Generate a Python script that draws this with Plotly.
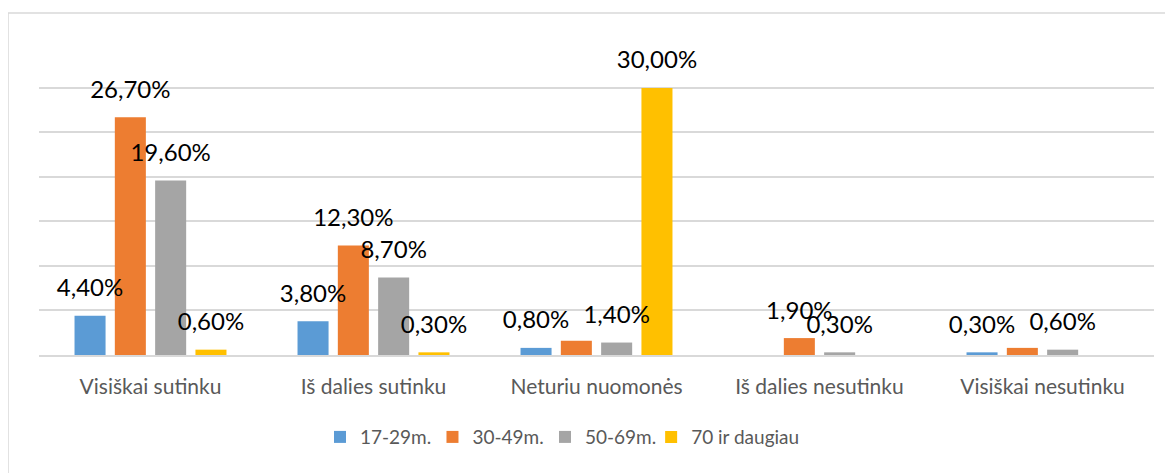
import plotly.graph_objects as go

categories = ["Visiškai sutinku", "Iš dalies sutinku", "Neturiu nuomonės", "Iš dalies nesutinku", "Visiškai nesutinku"]
series_names = ["17-29m.", "30-49m.", "50-69m.", "70 ir daugiau"]
values_17_29 = [4.4, 3.8, 0.8, 0.0, 0.3]
values_30_49 = [26.7, 12.3, 1.6, 1.9, 0.8]
values_50_69 = [19.6, 8.7, 1.4, 0.3, 0.6]
values_70 = [0.6, 0.3, 30.0, 0.0, 0.0]
labels_17_29 = ["4,40%", "3,80%", "0,80%", "", "0,30%"]
labels_30_49 = ["26,70%", "12,30%", "", "1,90%", ""]
labels_50_69 = ["19,60%", "8,70%", "1,40%", "0,30%", "0,60%"]
labels_70 = ["0,60%", "0,30%", "30,00%", "", ""]

colors = ["#5B9BD5", "#ED7D31", "#A5A5A5", "#FFC000"]
all_values = [values_17_29, values_30_49, values_50_69, values_70]
all_labels = [labels_17_29, labels_30_49, labels_50_69, labels_70]
legend_ids = ["legend", "legend", "legend", "legend2"]

FONT = "Lato, 'Open Sans', sans-serif"

fig = go.Figure()
for name, vals, col, lg in zip(series_names, all_values, colors, legend_ids):
    fig.add_trace(go.Bar(
        x=categories, y=vals, name=name, legend=lg,
        marker=dict(color=col, line=dict(width=0)),
        hoverinfo="skip",
    ))

for name, vals, labs in zip(series_names, all_values, all_labels):
    fig.add_trace(go.Scatter(
        x=categories, y=vals, text=labs, mode="markers+text",
        textposition="top center",
        marker=dict(size=20, opacity=0),
        textfont=dict(family=FONT, size=24, color="#000000"),
        showlegend=False, hoverinfo="skip", cliponaxis=False,
    ))

legend_common = dict(orientation="h", xanchor="left", y=-0.263, yanchor="middle",
                     font=dict(size=19, color="#595959"), itemwidth=30,
                     traceorder="normal", bgcolor="rgba(0,0,0,0)")

fig.update_layout(
    width=1165, height=465,
    margin=dict(l=31, r=19, t=35, b=118),
    paper_bgcolor="white", plot_bgcolor="white",
    barmode="group", bargap=0.277, bargroupgap=0.23,
    scattermode="group", scattergap=0.277,
    font=dict(family=FONT, color="#595959"),
    showlegend=True,
    legend=dict(x=0.252, entrywidth=67.5, entrywidthmode="pixels", **legend_common),
    legend2=dict(x=0.549, **legend_common),
    xaxis=dict(showgrid=False, showline=True, linecolor="#D9D9D9", linewidth=1.5,
               ticks="", tickfont=dict(size=21, color="#595959"), ticklabelstandoff=12,
               fixedrange=True),
    yaxis=dict(range=[0, 35.05], dtick=5, showgrid=True, gridcolor="#D9D9D9", gridwidth=1.5,
               showticklabels=False, zeroline=False, ticks="", fixedrange=True),
    shapes=[dict(type="rect", xref="paper", yref="paper",
                 x0=-0.0278, x1=1.03, y0=-0.45, y1=1.096,
                 line=dict(color="#D9D9D9", width=1.5), fillcolor="rgba(0,0,0,0)", layer="below")],
)

fig.write_html("out.html")
